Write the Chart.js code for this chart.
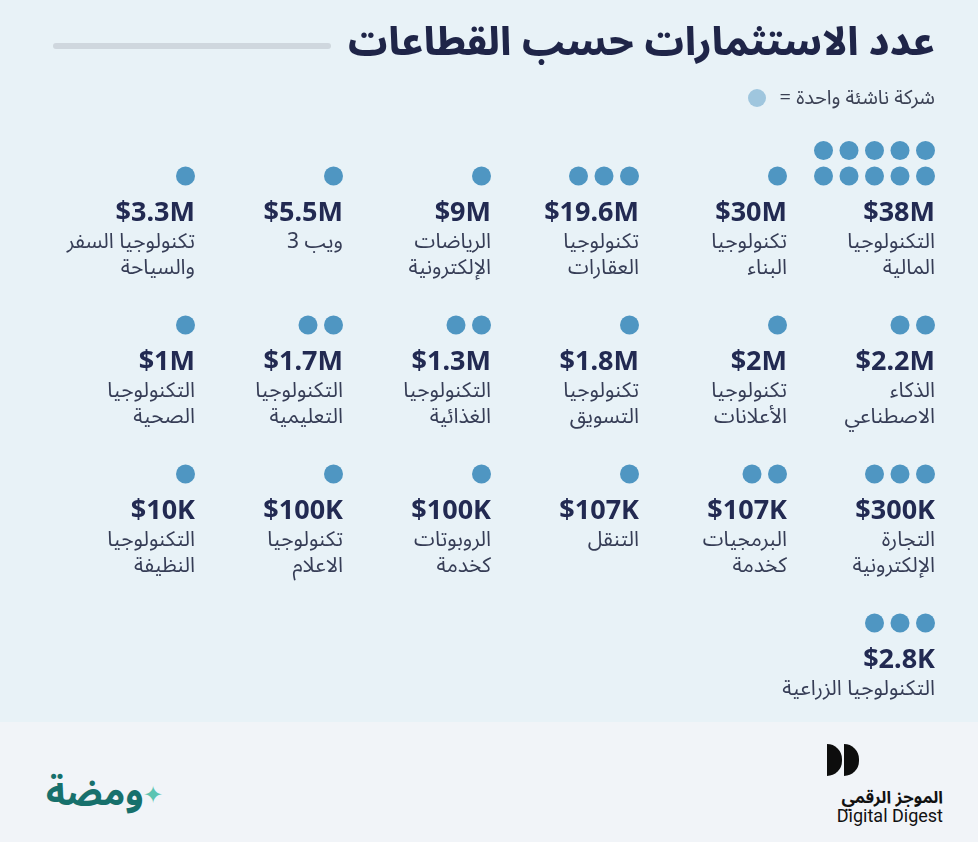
<!DOCTYPE html>
<html lang="ar">
<head>
<meta charset="utf-8">
<script src="https://cdn.jsdelivr.net/npm/chart.js@4.4.1/dist/chart.umd.min.js"></script>
<style>
  html, body { margin: 0; padding: 0; }
  body { width: 978px; height: 842px; background: #e8f2f7; position: relative; overflow: hidden;
         font-family: "Noto Sans Arabic", "Noto Sans", "DejaVu Sans", sans-serif; }
  #wrap { position: absolute; left: 0; top: 0; width: 978px; height: 842px; }
  .title { position: absolute; right: 43px; top: 1px; direction: rtl; font-size: 39px; font-weight: 800;
           color: #1f2548; white-space: nowrap; }
  .rule { position: absolute; left: 53px; top: 43px; width: 278px; height: 6px; border-radius: 3px; background: #cfd7de; }
  .key { position: absolute; right: 43px; top: 77px; direction: rtl; font-size: 20px; color: #3b4154; white-space: nowrap; }
  .key i { display: inline-block; width: 18px; height: 18px; border-radius: 50%; background: #9fc6de; vertical-align: -3px; margin-right: 8px; }
  .footer { position: absolute; left: 0; top: 722px; width: 978px; height: 120px; background: #f1f4f8; }
  .dd { position: absolute; right: 35px; top: 22px; width: 112px; text-align: right; }
  .dd .mark { position: absolute; left: -4px; top: 0; }
  .dd .mark span { display: inline-block; width: 15px; height: 32px; background: #0d0d0d; border-radius: 0 16px 16px 0; margin-right: 2px; }
  .dd .ar { position: absolute; right: 0; top: 36px; direction: rtl; font-size: 17px; font-weight: 700; color: #111; white-space: nowrap; }
  .dd .en { position: absolute; right: 0; top: 61px; font-family: "Liberation Sans Narrow", Roboto, sans-serif; font-size: 18px; color: #111; white-space: nowrap; }
  .wm { position: absolute; left: 46px; top: 32px; direction: rtl; font-size: 37px; font-weight: 700; color: #17706c; white-space: nowrap; }
  .spark { position: absolute; left: 143px; top: 48px; font-size: 24px; color: #5cc4b2; }
</style>
</head>
<body>
<div id="wrap"><canvas id="dotChart"></canvas></div>
<div class="title">عدد الاستثمارات حسب القطاعات</div>
<div class="rule"></div>
<div class="key">شركة ناشئة واحدة = <i></i></div>
<div class="footer">
  <div class="wm">ومضة</div>
  <div class="spark">✦</div>
  <div class="dd">
    <div class="mark"><span></span><span></span></div>
    <div class="ar">الموجز الرقمي</div>
    <div class="en">Digital Digest</div>
  </div>
</div>
<script>
// sectors, read right to left, top to bottom
const sectors = [
    ['التكنولوجيا', 'المالية'], ['تكنولوجيا', 'البناء'], ['تكنولوجيا', 'العقارات'],
    ['الرياضات', 'الإلكترونية'], ['ويب 3'], ['تكنولوجيا السفر', 'والسياحة'],
    ['الذكاء', 'الاصطناعي'], ['تكنولوجيا', 'الأعلانات'], ['تكنولوجيا', 'التسويق'],
    ['التكنولوجيا', 'الغذائية'], ['التكنولوجيا', 'التعليمية'], ['التكنولوجيا', 'الصحية'],
    ['التجارة', 'الإلكترونية'], ['البرمجيات', 'كخدمة'], ['التنقل'],
    ['الروبوتات', 'كخدمة'], ['تكنولوجيا', 'الاعلام'], ['التكنولوجيا', 'النظيفة'],
    ['التكنولوجيا الزراعية']
];
const investments = ['$38M', '$30M', '$19.6M', '$9M', '$5.5M', '$3.3M',
    '$2.2M', '$2M', '$1.8M', '$1.3M', '$1.7M', '$1M',
    '$300K', '$107K', '$107K', '$100K', '$100K', '$10K', '$2.8K'];
const startups = [10, 1, 3, 1, 1, 1, 2, 1, 1, 2, 2, 1, 3, 2, 1, 1, 1, 1, 3];

const PER_ROW = 6;      // sectors per grid row
const DOTS_PER_LINE = 5;
const COL_PX = 148, ROW_PX = 149;   // grid pitch in pixels
const DOT_GAP = 25.5, DOT_INSET = 9.5;

// one point per startup, placed from the sector's grid cell
const dots = [];
startups.forEach((n, i) => {
    const row = Math.floor(i / PER_ROW), col = i % PER_ROW;
    for (let k = 0; k < n; k++) {
        const dc = k % DOTS_PER_LINE, dr = Math.floor(k / DOTS_PER_LINE);
        dots.push({
            x: (PER_ROW - 1 - col) - (DOT_INSET + dc * DOT_GAP) / COL_PX,
            y: row - dr * DOT_GAP / ROW_PX
        });
    }
});

const cellText = {
    id: 'cellText',
    afterDatasetsDraw(chart) {
        const { ctx, scales: { x, y } } = chart;
        ctx.save();
        ctx.textAlign = 'right';
        ctx.textBaseline = 'middle';
        investments.forEach((v, i) => {
            const row = Math.floor(i / PER_ROW), col = i % PER_ROW;
            const px = x.getPixelForValue(PER_ROW - 1 - col);
            const py = y.getPixelForValue(row);
            ctx.direction = 'ltr';
            ctx.fillStyle = '#222a52';
            ctx.font = '700 27px "Noto Sans", "Open Sans", sans-serif';
            ctx.fillText(v, px, py + 37);
            ctx.direction = 'rtl';
            ctx.fillStyle = '#363d56';
            ctx.font = '21px "Noto Sans Arabic", "Noto Sans", "DejaVu Sans", sans-serif';
            sectors[i].forEach((line, j) => ctx.fillText(line, px, py + 69 + j * 26));
        });
        ctx.restore();
    }
};

new Chart(document.getElementById('dotChart'), {
    type: 'scatter',
    data: {
        datasets: [{
            data: dots,
            backgroundColor: '#4f96c2',
            borderWidth: 0,
            pointRadius: 9.5,
            pointHoverRadius: 9.5,
            clip: false
        }]
    },
    options: {
        responsive: true,
        maintainAspectRatio: false,
        animation: false,
        // axes run half a cell past the first row and last column so every dot stays inside
        layout: { padding: { left: 121, right: 43, top: 101.5, bottom: 219 } },
        scales: {
            x: { display: false, min: -0.5, max: PER_ROW - 1 },
            y: { display: false, min: -0.5, max: 3, reverse: true }
        },
        plugins: { legend: { display: false }, tooltip: { enabled: false } }
    },
    plugins: [cellText]
});
</script>
</body>
</html>
